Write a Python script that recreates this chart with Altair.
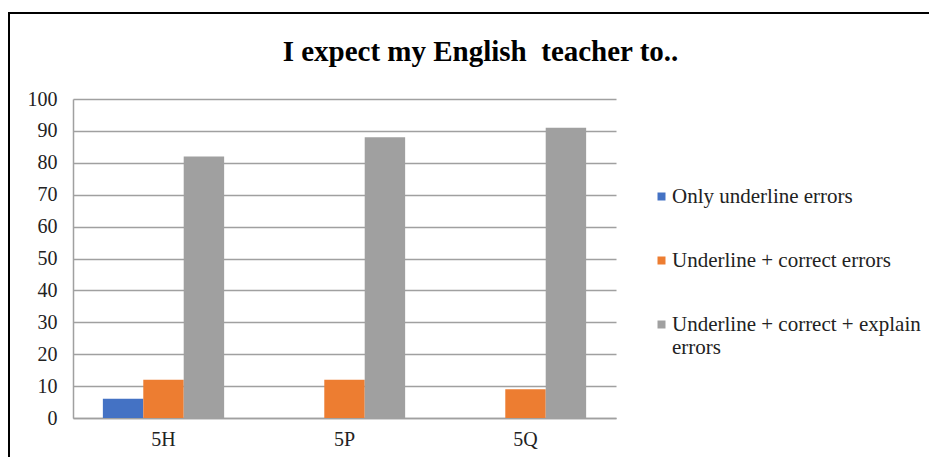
import altair as alt
import pandas as pd

classes = ["5H", "5P", "5Q"]
series = ["Only underline errors", "Underline + correct errors", "Underline + correct + explain errors"]
only_underline = [6, 0, 0]
underline_correct = [12, 12, 9]
underline_correct_explain = [82, 88, 91]
colors = ["#4472C4", "#ED7D31", "#A0A0A0"]

rows = []
for i, c in enumerate(classes):
    for s, vals in zip(series, [only_underline, underline_correct, underline_correct_explain]):
        rows.append({"Class": c, "Series": s, "Value": vals[i]})
df = pd.DataFrame(rows)

font = "Liberation Serif"

bars = alt.Chart(df).mark_bar().encode(
    x=alt.X("Class:N", sort=classes, title=None,
            scale=alt.Scale(paddingInner=0.33, paddingOuter=0.165),
            axis=alt.Axis(labelAngle=0, labelFont=font, labelFontSize=20, labelColor="#222",
                          labelPadding=11, ticks=False, domainColor="#a0a0a0", domainWidth=1.5,
                          grid=False)),
    xOffset=alt.XOffset("Series:N", sort=series, scale=alt.Scale(paddingInner=0, paddingOuter=0)),
    y=alt.Y("Value:Q", title=None,
            scale=alt.Scale(domain=[0, 100], nice=False),
            axis=alt.Axis(values=list(range(0, 101, 10)), labelFont=font, labelFontSize=20,
                          labelColor="#222", labelPadding=16, ticks=False, domainColor="#a0a0a0",
                          domainWidth=1.5, gridColor="#a0a0a0", gridWidth=1.3)),
    color=alt.Color("Series:N", sort=series, scale=alt.Scale(domain=series, range=colors),
                    legend=alt.Legend(title=None, orient="none", legendX=578, legendY=87,
                                      symbolType="square", symbolSize=64, symbolStrokeWidth=0,
                                      labelFont=font, labelFontSize=21, labelColor="#222",
                                      labelLimit=400, rowPadding=42, labelOffset=0,
                                      labelExpr="datum.label == 'Underline + correct + explain errors' ? ['Underline + correct + explain', 'errors'] : datum.label")),
)

left_border = alt.Chart(df).mark_rule(color="black", strokeWidth=2).encode(
    x=alt.value(-64), y=alt.value(-87), y2=alt.value(380)
)
top_border = alt.Chart(df).mark_rule(color="black", strokeWidth=2).encode(
    y=alt.value(-86), x=alt.value(-65), x2=alt.value(900)
)

chart = alt.layer(bars, left_border, top_border).properties(
    width=543, height=319,
    autosize=alt.AutoSizeParams(type="none"),
    padding={"left": 65, "top": 91, "right": 313, "bottom": 39},
    title=alt.Title("I expect my English\u00a0 teacher to..", font=font, fontSize=29, fontWeight="bold",
                    color="#000", anchor="middle", dx=136, offset=0, dy=56),
).configure_view(stroke=None)

chart.save("out.html", embed_options={"renderer": "svg", "actions": False})
